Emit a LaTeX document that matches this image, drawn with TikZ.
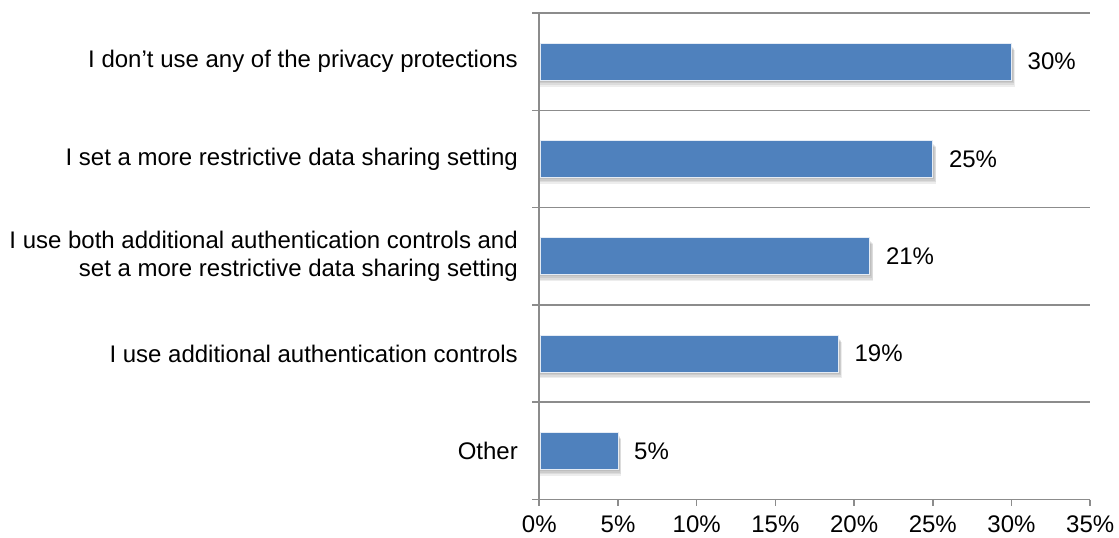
\documentclass[tikz,border=0pt]{standalone}
\usepackage{fontspec}
\setmainfont{Liberation Sans}
\begin{document}
\begin{tikzpicture}[x=1pt,y=-1pt,
  gridline/.style={draw=black!45,line width=1.5pt},
  axisline/.style={draw=black!45,line width=1.7pt},
  barfill/.style={fill=barblue,draw=white!85!barblue,line width=1pt},
  catlabel/.style={anchor=east,inner sep=0pt,align=right,font=\fontsize{24}{28.5}\selectfont},
  vallabel/.style={anchor=west,inner sep=0pt,font=\fontsize{24}{28.5}\selectfont},
  ticklabel/.style={anchor=center,inner sep=0pt,font=\fontsize{24}{28.5}\selectfont}]
\definecolor{barblue}{HTML}{4F81BD}
\useasboundingbox (0,0) rectangle (1119,538);
% axis geometry: origin of the value axis and size of one percent
\def\xo{539.3}
\def\pct{15.74}
\def\ytop{13}
\def\band{97.3}
% horizontal category separators
\foreach \i in {0,...,5}
  \draw[gridline] (532,\ytop+\band*\i) -- (\xo+35*\pct,\ytop+\band*\i);
% vertical category axis
\draw[axisline] (\xo,\ytop) -- (\xo,\ytop+5*\band+6);
% value axis ticks and labels
\foreach \k in {0,...,7}{
  \draw[gridline] (\xo+5*\k*\pct,\ytop+5*\band) -- (\xo+5*\k*\pct,\ytop+5*\band+6);
  \pgfmathtruncatemacro{\v}{5*\k}
  \node[ticklabel] (tick\k) at (\xo+5*\k*\pct,524.5) {\v\%};
}
% bars with soft shadow, category label and value label
\foreach \i/\val/\txt in {
  0/30/{I don’t use any of the privacy protections},
  1/25/{I set a more restrictive data sharing setting},
  2/21/{I use both additional authentication controls and\\set a more restrictive data sharing setting},
  3/19/{I use additional authentication controls},
  4/5/{Other}}{
  \pgfmathsetmacro{\yc}{\ytop+\band*(\i+0.5)}
  \pgfmathsetmacro{\xe}{\xo+\val*\pct}
  \foreach \s in {1,2,3,4}
    \fill[black,opacity=0.07] (\xo+1,\yc-16+\s) rectangle (\xe+1+0.6*\s,\yc+18.5+1.6*\s);
  \path[barfill] (\xo+0.8,\yc-18.5) rectangle (\xe,\yc+18.5);
  \coordinate (barend\i) at (\xe,\yc);
  \node[vallabel] (val\i) at ([xshift=16pt]barend\i) {\val\%};
  \node[catlabel] (cat\i) at (518,\yc) {\txt};
}
\end{tikzpicture}
\end{document}
